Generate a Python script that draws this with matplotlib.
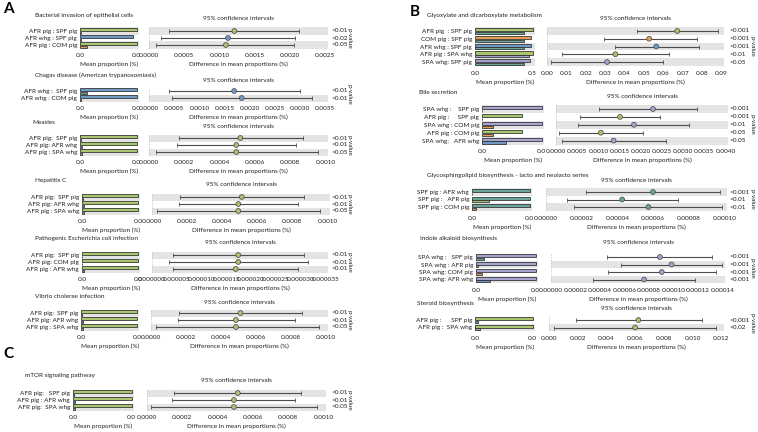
import numpy as np
import matplotlib.pyplot as plt

W, H = 758, 432
FS = 4.6
TXT = '#202020'

grp_colors = {'AFR pig': '#a9c56d', 'SPF pig': '#6aa59c', 'COM pig': '#e59c58',
              'AFR whg': '#6f9ac6', 'SPA whg': '#a5a3cf'}

# ---- A ----
bact_rows = ["AFR pig : SPF pig", "AFR whg : SPF pig", "AFR pig : COM pig"]
bact_m1 = [0.00122, 0.00113, 0.00122]
bact_m2 = [0.00002, 0.00002, 0.00016]
bact_diff = [0.00121, 0.00112, 0.00109]
bact_lo = [0.000285, 0.000167, 0.000105]
bact_hi = [0.00213, 0.00207, 0.00206]
bact_p = ["<0.01", "<0.02", "<0.05"]
bact_ticks = [0.0, 0.0005, 0.0010, 0.0015, 0.0020, 0.0025]

chag_rows = ["AFR whg :  SPF pig", "AFR whg : COM pig"]
chag_m1 = [0.0019, 0.0019]
chag_m2 = [0.00025, 0.00003]
chag_diff = [0.00169, 0.00184]
chag_lo = [0.00039, 0.00045]
chag_hi = [0.00300, 0.00323]
chag_p = ["<0.01", "<0.01"]
chag_ticks = [0.0, 0.0005, 0.0010, 0.0015, 0.0020, 0.0025, 0.0030, 0.0035]

meas_rows = ["AFR pig:  SPF pig", "AFR pig: AFR whg", "AFR pig : SPA whg"]
meas_m1 = [0.00053, 0.00053, 0.00053]
meas_m2 = [0.00001, 0.00002, 0.00002]
meas_diff = [0.000518, 0.000495, 0.000495]
meas_lo = [0.000168, 0.000159, 0.000037]
meas_hi = [0.000873, 0.000836, 0.000957]
meas_p = ["<0.01", "<0.01", "<0.05"]
small_ticks = [0.0, 0.0002, 0.0004, 0.0006, 0.0008, 0.0010]

hepc_rows = ["AFR pig:  SPF pig", "AFR pig: AFR whg", "AFR pig : SPA whg"]
hepc_m1 = [0.00053, 0.00053, 0.00053]
hepc_m2 = [0.00001, 0.00002, 0.00002]
hepc_diff = [0.000512, 0.000492, 0.000492]
hepc_lo = [0.00016, 0.000154, 0.000028]
hepc_hi = [0.000869, 0.000831, 0.000957]
hepc_p = ["<0.01", "<0.01", "<0.05"]

ecol_rows = ["AFR pig:  SPF pig", "AFR pig: COM pig", "AFR pig : AFR whg"]
ecol_m1 = [0.0000175, 0.0000175, 0.0000175]
ecol_m2 = [0.0000001, 0.0000001, 0.0000005]
ecol_diff = [0.0000174, 0.0000174, 0.0000169]
ecol_lo = [0.0000043, 0.0000035, 0.0000043]
ecol_hi = [0.0000306, 0.0000314, 0.0000295]
ecol_p = ["<0.01", "<0.01", "<0.01"]
ecol_ticks = [0.0, 0.000005, 0.000010, 0.000015, 0.000020, 0.000025, 0.000030, 0.000035]

vib_rows = ["AFR pig:  SPF pig", "AFR pig: AFR whg", "AFR pig : SPA whg"]
vib_m1 = [0.00053, 0.00053, 0.00053]
vib_m2 = [0.00001, 0.00002, 0.00002]
vib_diff = [0.000513, 0.000487, 0.000487]
vib_lo = [0.00016, 0.000155, 0.000028]
vib_hi = [0.000864, 0.000826, 0.000966]
vib_p = ["<0.01", "<0.01", "<0.05"]

# ---- C ----
mtor_rows = ["AFR pig:   SPF pig", "AFR pig : AFR whg", "AFR pig:  SPA whg"]
mtor_m1 = [0.00053, 0.00053, 0.00053]
mtor_m2 = [0.00001, 0.00002, 0.00002]
mtor_diff = [0.000515, 0.000493, 0.000493]
mtor_lo = [0.000154, 0.000144, 0.000022]
mtor_hi = [0.000874, 0.000837, 0.000963]
mtor_p = ["<0.01", "<0.01", "<0.05"]

# ---- B ----
glyo_rows = ["AFR pig  : SPF pig", "COM pig : SPF pig", "AFR whg : SPF pig",
             "AFR pig : SPA whg", "SPA whg: SPF pig"]
glyo_m1 = [0.500, 0.485, 0.485, 0.500, 0.475]
glyo_m2 = [0.425, 0.425, 0.425, 0.465, 0.425]
glyo_diff = [0.0672, 0.0527, 0.0564, 0.0353, 0.0310]
glyo_lo = [0.0463, 0.0293, 0.0352, 0.0077, 0.0020]
glyo_hi = [0.0880, 0.0772, 0.0784, 0.0628, 0.0597]
glyo_p = ["<0.001", "<0.001", "<0.001", "<0.01", "<0.05"]
glyo_ticks = [0.0, 0.01, 0.02, 0.03, 0.04, 0.05, 0.06, 0.07, 0.08, 0.09]

bile_rows = ["SPA whg :    SPF pig", "AFR pig :     SPF pig", "SPA whg : COM pig",
             "AFR pig : COM pig", "SPA whg:   AFR whg"]
bile_m1 = [0.0024, 0.0016, 0.0024, 0.0016, 0.0024]
bile_m2 = [0.00002, 0.00002, 0.00045, 0.00045, 0.00095]
bile_diff = [0.00229, 0.00151, 0.00184, 0.00106, 0.00136]
bile_lo = [0.00102, 0.00057, 0.00053, 0.00008, 0.00014]
bile_hi = [0.00333, 0.00245, 0.00315, 0.00206, 0.00260]
bile_p = ["<0.001", "<0.001", "<0.01", "<0.05", "<0.05"]
bile_ticks = [0.0, 0.0005, 0.0010, 0.0015, 0.0020, 0.0025, 0.0030, 0.0035, 0.0040]

glyc_rows = ["SPF pig : AFR whg", "SPF pig :   AFR pig", "SPF pig : COM pig"]
glyc_m1 = [0.000062, 0.000062, 0.000062]
glyc_m2 = [0.0000002, 0.000018, 0.0000045]
glyc_diff = [0.0000600, 0.0000427, 0.0000574]
glyc_lo = [0.0000226, 0.0000115, 0.0000157]
glyc_hi = [0.0000977, 0.0000738, 0.0000987]
glyc_p = ["<0.001", "<0.01", "<0.01"]
glyc_ticks = [0.0, 0.00002, 0.00004, 0.00006, 0.00008, 0.00010]

indo_rows = ["SPA whg :   SPF pig", "SPA whg : AFR pig", "SPA whg: COM pig", "SPA whg: AFR whg"]
indo_m1 = [0.0001, 0.0001, 0.0001, 0.0001]
indo_m2 = [0.000013, 0.000004, 0.00001, 0.000024]
indo_diff = [0.0000889, 0.0000984, 0.0000905, 0.0000761]
indo_lo = [0.0000457, 0.0000571, 0.0000465, 0.0000340]
indo_hi = [0.0001318, 0.0001400, 0.0001350, 0.0001177]
indo_p = ["<0.001", "<0.001", "<0.001", "<0.001"]
indo_ticks = [0.0, 0.00002, 0.00004, 0.00006, 0.00008, 0.00010, 0.00012, 0.00014]

ster_rows = ["AFR pig :      SPF pig", "AFR pig :  SPA whg"]
ster_m1 = [0.0066, 0.0066]
ster_m2 = [0.0004, 0.0006]
ster_diff = [0.00622, 0.00599]
ster_lo = [0.00191, 0.00035]
ster_hi = [0.01065, 0.01160]
ster_p = ["<0.001", "<0.02"]
ster_ticks = [0.0, 0.002, 0.004, 0.006, 0.008, 0.010, 0.012]


def px_axes(fig, x0, x1, y0, y1):
    return fig.add_axes([x0 / W, 1 - y1 / H, (x1 - x0) / W, (y1 - y0) / H])


def draw(fig, title, rows, m1, m2, diff, lo, hi, pvals, ticks, fmt, lay):
    # lay: title x/y, ci-title y, first row y, row pitch, bar x0/x1, ci x0/x1, pval x, p-label x
    tx, ty, cty, ry, pitch, bx0, bx1, cx0, cx1, pvx, plx = lay
    n = len(rows)
    top = ry - pitch / 2
    bot = ry + (n - 1) * pitch + pitch / 2
    ys = np.arange(n)[::-1]
    pairs = [[' '.join(p.split()) for p in r.split(':')] for r in rows]
    c1 = [grp_colors[p[0]] for p in pairs]
    c2 = [grp_colors[p[1]] for p in pairs]
    diff, lo, hi = np.array(diff), np.array(lo), np.array(hi)
    bmax = max(max(m1), max(m2))

    axb = px_axes(fig, bx0, bx1, top, bot)
    axc = px_axes(fig, cx0, cx1, top, bot)
    for ax in (axb, axc):
        for y in ys:
            if y % 2 == 0:
                ax.axhspan(y - 0.5, y + 0.5, color='#e4e4e4', lw=0, zorder=0)
        ax.set_ylim(-0.5, n - 0.5)
        for s in ax.spines.values():
            s.set_visible(False)
        ax.tick_params(labelsize=FS, length=0, pad=3.5, colors=TXT)

    axb.barh(ys + 0.16, m1, height=0.42, color=c1, edgecolor='#2a2a2a', lw=0.55, zorder=2)
    axb.barh(ys - 0.24, m2, height=0.26, color=c2, edgecolor='#2a2a2a', lw=0.55, zorder=2)
    axb.set_xlim(0, bmax * 1.04)
    axb.set_xticks([0, bmax])
    axb.set_xticklabels(['0.0', '%.1f' % bmax])
    axb.set_yticks(ys)
    axb.set_yticklabels(rows)
    axb.tick_params(axis='y', pad=2)
    axb.set_xlabel('Mean proportion (%)', fontsize=FS, labelpad=2.5, color=TXT)

    axc.axvline(0, color='#bbbbbb', lw=0.5, ls=(0, (2, 2)), zorder=1)
    axc.errorbar(diff, ys, xerr=[diff - lo, hi - diff], fmt='none', ecolor='#4d4d4d',
                 elinewidth=0.8, capsize=1.6, capthick=0.6, zorder=2)
    axc.scatter(diff, ys, s=12, c=c1, edgecolors='#4d4d4d', linewidths=0.55, zorder=3)
    axc.set_xlim(0, ticks[-1] * 1.015)
    axc.set_xticks(ticks)
    axc.set_xticklabels([fmt % t for t in ticks])
    axc.set_yticks([])
    axc.set_xlabel('Difference in mean proportions (%)', fontsize=FS, labelpad=2.5, color=TXT)

    for y, p in zip(ys, pvals):
        fig.text(pvx / W, 1 - (ry + (n - 1 - y) * pitch) / H, p, fontsize=FS,
                 va='center', ha='left', color=TXT)
    fig.text(plx / W, 1 - ((top + bot) / 2) / H, 'p-value', fontsize=FS, rotation=270,
             va='center', ha='center', color=TXT)
    fig.text(tx / W, 1 - ty / H, title, fontsize=FS, va='center', ha='left', color=TXT)
    fig.text((cx0 + cx1) / 2 / W, 1 - cty / H, '95% confidence intervals', fontsize=FS,
             va='center', ha='center', color=TXT)


def main():
    plt.rcParams['font.family'] = ['Lato', 'DejaVu Sans']
    fig = plt.figure(figsize=(W / 100, H / 100), dpi=100)

    draw(fig, 'Bacterial invasion of epithelial cells', bact_rows, bact_m1, bact_m2,
         bact_diff, bact_lo, bact_hi, bact_p, bact_ticks, '%.4f',
         (35, 15, 19, 31, 7, 80, 139, 149, 328, 331, 349))
    draw(fig, 'Chagas disease (American trypanosomiasis)', chag_rows, chag_m1, chag_m2,
         chag_diff, chag_lo, chag_hi, chag_p, chag_ticks, '%.4f',
         (35, 75, 80, 91, 7, 80, 139, 149, 328, 331, 349))
    draw(fig, 'Measles', meas_rows, meas_m1, meas_m2, meas_diff, meas_lo, meas_hi,
         meas_p, small_ticks, '%.4f', (32, 123, 127, 138, 7, 80, 139, 149, 328, 331, 349))
    draw(fig, 'Hepatitis C', hepc_rows, hepc_m1, hepc_m2, hepc_diff, hepc_lo, hepc_hi,
         hepc_p, small_ticks, '%.4f', (35, 180, 184, 197, 7, 82, 140, 152, 330, 331, 349))
    draw(fig, 'Pathogenic Escherichia coli infection', ecol_rows, ecol_m1, ecol_m2,
         ecol_diff, ecol_lo, ecol_hi, ecol_p, ecol_ticks, '%.6f',
         (35, 239, 243, 255, 7, 82, 140, 152, 328, 331, 349))
    draw(fig, 'Vibrio cholerae infection', vib_rows, vib_m1, vib_m2, vib_diff, vib_lo,
         vib_hi, vib_p, small_ticks, '%.4f', (35, 297, 302, 313, 7, 81, 139, 151, 328, 331, 349))
    draw(fig, 'mTOR signaling pathway', mtor_rows, mtor_m1, mtor_m2, mtor_diff, mtor_lo,
         mtor_hi, mtor_p, small_ticks, '%.4f', (25, 376, 380, 393, 7, 73, 134, 147, 326, 331, 349))

    draw(fig, 'Glyoxylate and dicarboxylate metabolism', glyo_rows, glyo_m1, glyo_m2,
         glyo_diff, glyo_lo, glyo_hi, glyo_p, glyo_ticks, '%.2f',
         (427, 15, 19, 31, 7.75, 475, 535, 547, 724, 730, 752))
    draw(fig, 'Bile secretion', bile_rows, bile_m1, bile_m2, bile_diff, bile_lo, bile_hi,
         bile_p, bile_ticks, '%.4f', (419, 93, 97, 109, 7.9, 482, 544, 556, 728, 730, 752))
    draw(fig, 'Glycosphingolipid biosynthesis - lacto and neolacto series', glyc_rows,
         glyc_m1, glyc_m2, glyc_diff, glyc_lo, glyc_hi, glyc_p, glyc_ticks, '%.5f',
         (427, 175, 181, 192, 7.5, 472, 532, 546, 727, 730, 752))
    draw(fig, 'Indole alkaloid biosynthesis', indo_rows, indo_m1, indo_m2, indo_diff,
         indo_lo, indo_hi, indo_p, indo_ticks, '%.5f',
         (420, 239, 243, 257, 7.5, 476, 538, 551, 725, 730, 752))
    draw(fig, 'Steroid biosynthesis', ster_rows, ster_m1, ster_m2, ster_diff, ster_lo,
         ster_hi, ster_p, ster_ticks, '%.3f', (417, 304, 309, 320, 7.5, 475, 535, 549, 724, 730, 752))

    fig.text(3 / W, 1 - 9 / H, 'A', fontsize=11, weight='bold', va='center')
    fig.text(410 / W, 1 - 12 / H, 'B', fontsize=11, weight='bold', va='center')
    fig.text(3 / W, 1 - 354 / H, 'C', fontsize=11, weight='bold', va='center')

    fig.savefig('out.png', dpi=100)


if __name__ == '__main__':
    main()
